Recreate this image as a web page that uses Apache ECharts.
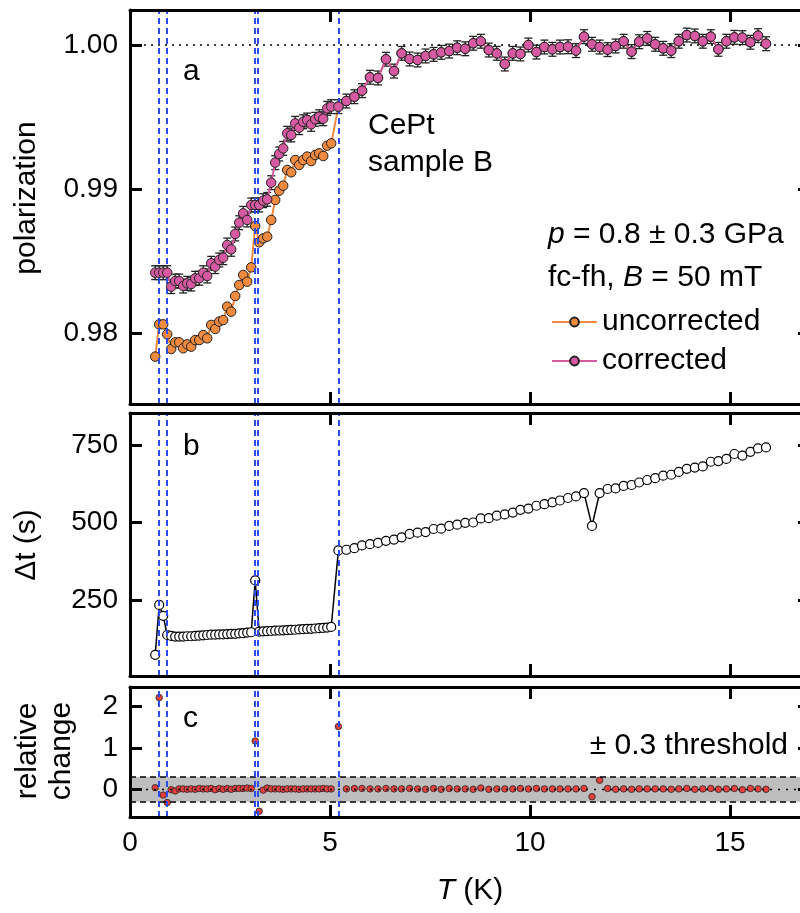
<!DOCTYPE html>
<html>
<head>
<meta charset="utf-8">
<script src="https://cdn.jsdelivr.net/npm/echarts@6/dist/echarts.min.js"></script>
<style>html,body{margin:0;padding:0;background:#fff}#c{width:800px;height:913px}</style>
</head>
<body>
<div id="c"></div>
<script>
// ---------------- data ----------------
const lowT = [0.63,0.73,0.83,0.93,1.03,1.13,1.23,1.33,1.43,1.53,1.63,1.73,1.83,1.93,2.03,2.13,2.23,2.33,2.43,2.53,2.63,2.73,2.83,2.93,3.03,3.13,3.23,3.33,3.43,3.53,3.63,3.73,3.83,3.93,4.03,4.13,4.23,4.33,4.43,4.53,4.63,4.73,4.83,4.93,5.03];
const highT = [5.21,5.41,5.61,5.80,6.00,6.20,6.40,6.60,6.79,6.99,7.19,7.39,7.59,7.78,7.98,8.18,8.38,8.58,8.77,8.97,9.17,9.37,9.57,9.76,9.96,10.16,10.36,10.56,10.75,10.95,11.15,11.35,11.55,11.74,11.94,12.14,12.34,12.54,12.73,12.93,13.13,13.33,13.53,13.72,13.92,14.12,14.32,14.52,14.71,14.91,15.11,15.31,15.51,15.70,15.90];

const polUncorrectedLow = [0.97836,0.98060,0.98060,0.97991,0.97889,0.97935,0.97935,0.97894,0.97921,0.97905,0.97951,0.97951,0.97986,0.97963,0.98056,0.98028,0.98079,0.98090,0.98183,0.98148,0.98257,0.98333,0.98403,0.98356,0.98456,0.98743,0.98630,0.98657,0.98669,0.98785,0.98924,0.98988,0.99023,0.99132,0.99116,0.99201,0.99167,0.99201,0.99225,0.99194,0.99236,0.99248,0.99229,0.99301,0.99317];
const polCorrectedLow = [0.98419,0.98419,0.98419,0.98419,0.98322,0.98361,0.98361,0.98326,0.98345,0.98340,0.98380,0.98380,0.98419,0.98396,0.98484,0.98461,0.98507,0.98523,0.98611,0.98581,0.98688,0.98766,0.98831,0.98785,0.98889,0.98889,0.98889,0.98919,0.98928,0.99044,0.99183,0.99243,0.99282,0.99387,0.99375,0.99456,0.99426,0.99467,0.99479,0.99449,0.99484,0.99502,0.99488,0.99560,0.99572];
// above 5.2 K corrected and uncorrected coincide
const polHigh = [0.99572,0.99611,0.99641,0.99683,0.99776,0.99771,0.99901,0.99819,0.99942,0.99903,0.99896,0.99924,0.99935,0.99949,0.99958,0.99981,0.99974,1.00012,1.00026,0.99965,0.99942,0.99868,0.99942,0.99938,1.00000,0.99951,0.99986,0.99970,0.99986,0.99988,0.99961,1.00058,1.00005,0.99986,0.99968,0.99993,1.00026,0.99954,1.00023,1.00046,1.00005,0.99977,0.99961,1.00026,1.00069,1.00063,1.00026,1.00058,0.99970,1.00026,1.00053,1.00051,1.00019,1.00065,1.00009];
const polError = 0.00048;

const dtLow = [73,234,199,137,134,132,132,132,133,133,134,135,136,137,138,138,139,139,140,141,141,142,143,145,146,313,148,149,149.5,150,151,151.5,152,153,153.5,154,155,156,156.5,157,158,159,160,161,163];
const dtHigh = [410,412,417,426,430,434,441,445,452,463,467,469,479,480,489,493,499,500,513,514,522,526,532,541,545,554,559,565,571,579,584,595,489,595,608,610,618,621,629,637,643,651,654,663,673,677,681,696,698,705,721,716,728,739,742];

const relLow = [0.04,2.22,-0.14,-0.32,-0.01,-0.04,0.01,0.01,0.00,0.01,0.00,0.02,0.01,0.01,0.02,-0.01,0.02,0.00,0.02,0.00,0.02,0.02,0.02,0.03,0.02,1.17,-0.53,-0.02,0.03,0.01,0.01,0.01,0.00,0.01,0.01,0.01,0.00,0.01,0.01,0.01,0.01,0.01,0.02,0.01,0.01];
const relHigh = [1.52,0.01,0.02,0.02,0.01,0.01,0.02,0.01,0.01,0.02,0.01,0.00,0.02,0.00,0.02,0.01,0.01,0.00,0.03,0.00,0.01,0.01,0.01,0.02,0.01,0.02,0.01,0.01,0.01,0.01,0.01,0.02,-0.18,0.22,0.02,0.00,0.01,0.00,0.01,0.01,0.01,0.01,0.00,0.01,0.02,0.00,0.01,0.02,0.00,0.01,0.02,-0.01,0.02,0.01,0.00];

const flaggedTemps = [0.73, 0.92, 3.13, 3.2, 5.23];
const threshold = 0.3;
const polTicks = [0.98, 0.99, 1.00];
const dtTicks = [250, 500, 750];
const relTicks = [0, 1, 2];

// ---------------- build ----------------
const FONT = "'Liberation Sans', Arial, Helvetica, sans-serif";
const T = lowT.concat(highT);
const zip = (xs, ys) => xs.map((x, i) => [x, ys[i]]);
const polUnc = polUncorrectedLow.concat(polHigh);
const polCor = polCorrectedLow.concat(polHigh);
const dt = dtLow.concat(dtHigh);
const rel = relLow.concat(relHigh);

const ORANGE = '#EF8A3E', PINK = '#D65AA2', BLUE = '#2b4cf2';

const lineSt = {color: '#000', width: 3};
function xAx(g, pos, labels) {
  return {type: 'value', gridIndex: g, position: pos, min: 0, max: 17, interval: 5, z: 5,
    axisLine: {show: true, onZero: false, lineStyle: lineSt},
    axisTick: {show: true, inside: true, length: 12, lineStyle: lineSt},
    axisLabel: {show: labels, fontSize: 28, color: '#000', fontFamily: FONT, margin: 12, showMaxLabel: false, showMinLabel: true},
    splitLine: {show: false}};
}
function yAx(g, pos, min, max, ticks, labels, fmt) {
  return {type: 'value', gridIndex: g, position: pos, min: min, max: max, z: 5,
    axisLine: {show: true, onZero: false, lineStyle: lineSt},
    axisTick: {show: true, inside: true, length: 12, lineStyle: lineSt, customValues: ticks},
    axisLabel: {show: labels, fontSize: 28, color: '#000', fontFamily: FONT, margin: 12, customValues: ticks, formatter: fmt},
    splitLine: {show: false}};
}
const blueLine = {color: BLUE, width: 2, type: [6, 4]};
const vlines = () => ({silent: true, symbol: 'none', label: {show: false},
  lineStyle: blueLine, data: flaggedTemps.map(t => ({xAxis: t}))});

const option = {
  animation: false,
  backgroundColor: '#fff',
  textStyle: {fontFamily: FONT},
  grid: [
    {left: 130, top: 10, width: 680, height: 394, outerBoundsMode: 'none', containLabel: false},
    {left: 130, top: 413, width: 680, height: 263, outerBoundsMode: 'none', containLabel: false},
    {left: 130, top: 687, width: 680, height: 130, outerBoundsMode: 'none', containLabel: false}
  ],
  xAxis: [xAx(0, 'bottom', false), xAx(0, 'top', false), xAx(1, 'bottom', false), xAx(1, 'top', false), xAx(2, 'bottom', true), xAx(2, 'top', false)],
  yAxis: [
    yAx(0, 'left', 0.975069, 1.002431, polTicks, true, v => v.toFixed(2)),
    yAx(0, 'right', 0.975069, 1.002431, polTicks, false),
    yAx(1, 'left', 4.8, 853.2, dtTicks, true, v => String(v)),
    yAx(1, 'right', 4.8, 853.2, dtTicks, false),
    yAx(2, 'left', -0.671, 2.477, relTicks, true, v => String(v)),
    yAx(2, 'right', -0.671, 2.477, relTicks, false)
  ],
  legend: {
    data: ['uncorrected', 'corrected'], orient: 'vertical', left: 546, top: 302,
    itemWidth: 45, itemHeight: 11, itemGap: 9, selectedMode: false,
    textStyle: {fontSize: 30, color: '#000', fontFamily: FONT}
  },
  series: [
    {name: 'uncorrected', type: 'line', xAxisIndex: 0, yAxisIndex: 0, z: 3,
      data: zip(T, polUnc), symbol: 'circle', symbolSize: 9.5,
      lineStyle: {color: ORANGE, width: 2}, itemStyle: {color: ORANGE, borderColor: '#222', borderWidth: 1},
      markLine: vlines()},
    {name: 'corrected error', type: 'custom', xAxisIndex: 0, yAxisIndex: 0, z: 4,
      data: T.map((t, i) => [t, polCor[i], polError]),
      renderItem: function (params, api) {
        const x = api.value(0), y = api.value(1), e = api.value(2);
        const a = api.coord([x, y + e]), b = api.coord([x, y - e]);
        const hw = 4, st = {stroke: '#222', lineWidth: 1.3};
        return {type: 'group', children: [
          {type: 'line', shape: {x1: a[0], y1: a[1], x2: b[0], y2: b[1]}, style: st},
          {type: 'line', shape: {x1: a[0] - hw, y1: a[1], x2: a[0] + hw, y2: a[1]}, style: st},
          {type: 'line', shape: {x1: b[0] - hw, y1: b[1], x2: b[0] + hw, y2: b[1]}, style: st}
        ]};
      }},
    {name: 'corrected', type: 'line', xAxisIndex: 0, yAxisIndex: 0, z: 5,
      data: zip(T, polCor), symbol: 'circle', symbolSize: 9.5,
      lineStyle: {color: PINK, width: 2}, itemStyle: {color: PINK, borderColor: '#222', borderWidth: 1},
      markLine: {silent: true, symbol: 'none', label: {show: false},
        lineStyle: {color: '#000', width: 1.5, type: [2, 5]}, data: [{yAxis: 1.0}]}},
    {name: 'Δt', type: 'line', xAxisIndex: 2, yAxisIndex: 2, z: 3,
      data: zip(T, dt), symbol: 'circle', symbolSize: 9,
      lineStyle: {color: '#000', width: 1.5}, itemStyle: {color: '#fff', borderColor: '#000', borderWidth: 1.2},
      markLine: vlines()},
    {name: 'relative change', type: 'scatter', xAxisIndex: 4, yAxisIndex: 4, z: 3,
      data: zip(T, rel), symbol: 'circle', symbolSize: 6.5,
      itemStyle: {color: '#E8403C', borderColor: '#222', borderWidth: 0.8, opacity: 1},
      markArea: {silent: true, itemStyle: {color: '#BEBEBE'}, data: [[{yAxis: -threshold}, {yAxis: threshold}]]},
      markLine: {silent: true, symbol: 'none', label: {show: false},
        data: [
          {yAxis: threshold, lineStyle: {color: '#000', width: 1.5, type: [6, 4]}},
          {yAxis: -threshold, lineStyle: {color: '#000', width: 1.5, type: [6, 4]}},
          {yAxis: 0, lineStyle: {color: '#000', width: 1.3, type: [2, 6]}}
        ].concat(flaggedTemps.map(t => ({xAxis: t, lineStyle: blueLine})))}}
  ],
  graphic: [
    txt('a', 183, 72), txt('b', 183, 447), txt('c', 183, 719),
    txt('CePt', 368, 126), txt('sample B', 368, 163),
    richTxt('{i|p} = 0.8 ± 0.3 GPa', 548, 235),
    richTxt('fc-fh, {i|B} = 50 mT', 548, 278),
    txt('± 0.3 threshold', 788, 746, 'right'),
    rot('polarization', 27, 198), rot('Δt (s)', 27, 545),
    rot('relative', 28, 751), rot('change', 62, 751),
    richTxt('{i|T} (K)', 470, 891, 'center')
  ]
};

function txt(s, x, y, align) {
  align = align || 'left';
  return {type: 'text', x: x, y: y, silent: true, z: 20,
    style: {text: s, fontSize: 30, fontFamily: FONT, fill: '#000', align: align, textAlign: align, verticalAlign: 'middle', textVerticalAlign: 'middle'}};
}
function richTxt(s, x, y, align) {
  align = align || 'left';
  return {type: 'text', x: x, y: y, silent: true, z: 20,
    style: {text: s, fontSize: 30, fontFamily: FONT, fill: '#000', align: align, textAlign: align, verticalAlign: 'middle', textVerticalAlign: 'middle',
      rich: {i: {fontStyle: 'italic', fontSize: 30, fontFamily: FONT, fill: '#000'}}}};
}
function rot(s, x, y) {
  return {type: 'text', x: x, y: y, rotation: Math.PI / 2, silent: true, z: 20,
    style: {text: s, fontSize: 30, fontFamily: FONT, fill: '#000', align: 'center', textAlign: 'center', verticalAlign: 'middle', textVerticalAlign: 'middle'}};
}

const chart = echarts.init(document.getElementById('c'), null, {renderer: 'canvas'});
chart.setOption(option);
</script>
</body>
</html>
